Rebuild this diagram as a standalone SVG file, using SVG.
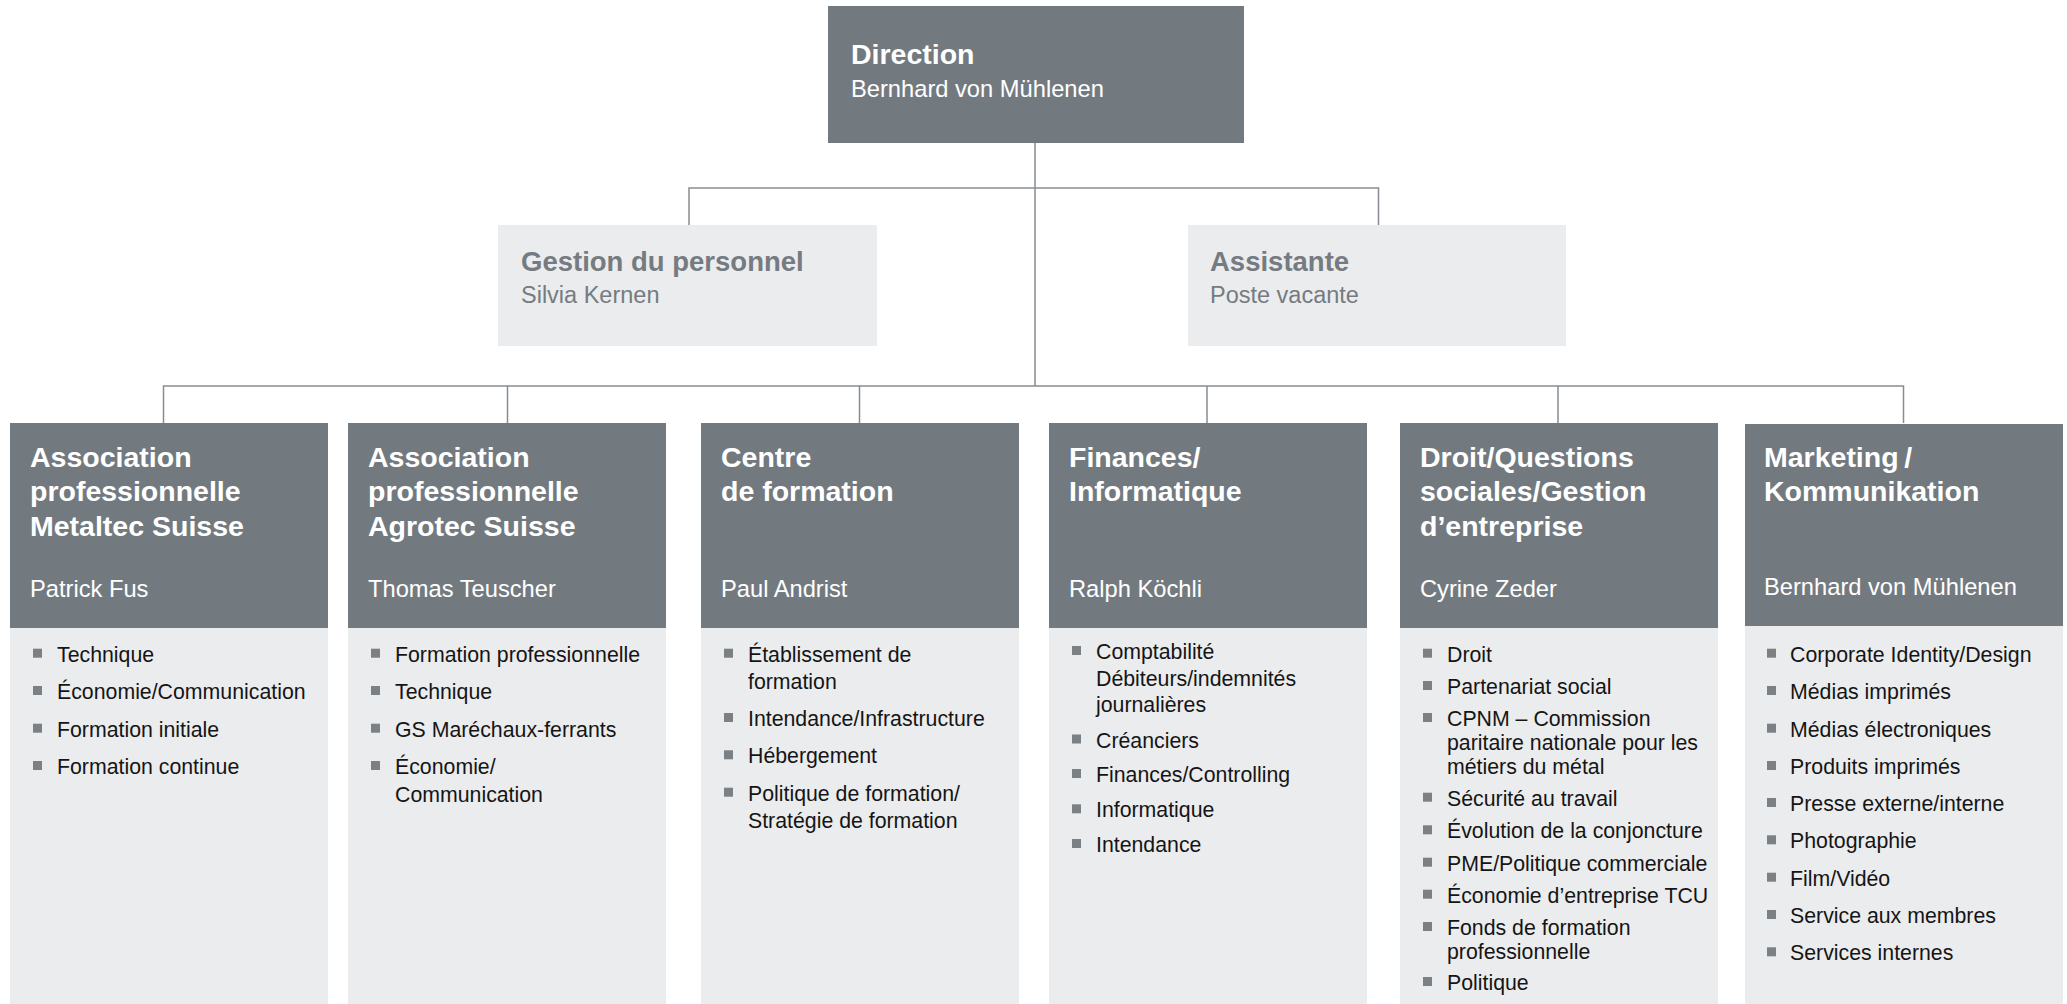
<svg xmlns="http://www.w3.org/2000/svg" width="2067" height="1004" viewBox="0 0 2067 1004">
<style>
text{font-family:"Liberation Sans",Arial,sans-serif}
.dark{fill:#737a7f}
.light{fill:#ebeced}
.h{font-size:28.5px;font-weight:bold;fill:#ffffff}
.n{font-size:23.7px;fill:#ffffff}
.hg{font-size:27.5px;font-weight:bold;fill:#757b80}
.ng{font-size:23.5px;fill:#757b80}
.b{font-size:21.3px;fill:#151515}
.bul{fill:#7b8085}
.con{fill:none;stroke:#878d92;stroke-width:1.5}
</style>
<defs>
<rect id="sq" width="9" height="9" class="bul"/>
</defs>
<rect width="2067" height="1004" fill="#ffffff"/>
<g id="connectors" class="con">
<path d="M1035 143V386"/>
<path d="M689 225V188H1378.5V225"/>
<path d="M163.5 423V386H1903.5V423"/>
<path d="M507.5 386V423M859.5 386V423M1207 386V423M1558 386V423"/>
</g>
<g id="direction">
<rect x="828" y="6" width="416" height="137" class="dark"/>
<text x="851" y="64" class="h">Direction</text>
<text x="851" y="97" class="n">Bernhard von Mühlenen</text>
</g>
<g id="gestion">
<rect x="498" y="225" width="379" height="121" class="light"/>
<text x="521" y="271" class="hg">Gestion du personnel</text>
<text x="521" y="303" class="ng">Silvia Kernen</text>
</g>
<g id="assistante">
<rect x="1188" y="225" width="378" height="121" class="light"/>
<text x="1210" y="271" class="hg">Assistante</text>
<text x="1210" y="303" class="ng">Poste vacante</text>
</g>
<g id="metaltec">
<rect x="10" y="628" width="318" height="376" class="light"/>
<rect x="10" y="423" width="318" height="205" class="dark"/>
<text x="30" y="467" class="h">Association<tspan x="30" y="501">professionnelle</tspan><tspan x="30" y="536">Metaltec Suisse</tspan></text>
<text x="30" y="597" class="n">Patrick Fus</text>
<use href="#sq" x="33" y="648.7"/><text x="57" y="661.7" class="b">Technique</text>
<use href="#sq" x="33" y="686"/><text x="57" y="699" class="b">Économie/Communication</text>
<use href="#sq" x="33" y="723.7"/><text x="57" y="736.7" class="b">Formation initiale</text>
<use href="#sq" x="33" y="761"/><text x="57" y="774" class="b">Formation continue</text>
</g>
<g id="agrotec">
<rect x="348" y="628" width="318" height="376" class="light"/>
<rect x="348" y="423" width="318" height="205" class="dark"/>
<text x="368" y="467" class="h">Association<tspan x="368" y="501">professionnelle</tspan><tspan x="368" y="536">Agrotec Suisse</tspan></text>
<text x="368" y="597" class="n">Thomas Teuscher</text>
<use href="#sq" x="371" y="648.7"/><text x="395" y="661.7" class="b">Formation professionnelle</text>
<use href="#sq" x="371" y="686"/><text x="395" y="699" class="b">Technique</text>
<use href="#sq" x="371" y="723.7"/><text x="395" y="736.7" class="b">GS Maréchaux-ferrants</text>
<use href="#sq" x="371" y="761"/><text x="395" y="774" class="b">Économie/<tspan x="395" y="801.7">Communication</tspan></text>
</g>
<g id="centre">
<rect x="701" y="628" width="318" height="376" class="light"/>
<rect x="701" y="423" width="318" height="205" class="dark"/>
<text x="721" y="467" class="h">Centre<tspan x="721" y="501">de formation</tspan></text>
<text x="721" y="597" class="n">Paul Andrist</text>
<use href="#sq" x="724" y="648.7"/><text x="748" y="661.7" class="b">Établissement de<tspan x="748" y="688.7">formation</tspan></text>
<use href="#sq" x="724" y="713"/><text x="748" y="726" class="b">Intendance/Infrastructure</text>
<use href="#sq" x="724" y="750.3"/><text x="748" y="763.3" class="b">Hébergement</text>
<use href="#sq" x="724" y="787.7"/><text x="748" y="800.7" class="b">Politique de formation/<tspan x="748" y="827.7">Stratégie de formation</tspan></text>
</g>
<g id="finances">
<rect x="1049" y="628" width="318" height="376" class="light"/>
<rect x="1049" y="423" width="318" height="205" class="dark"/>
<text x="1069" y="467" class="h">Finances/<tspan x="1069" y="501">Informatique</tspan></text>
<text x="1069" y="597" class="n">Ralph Köchli</text>
<use href="#sq" x="1072" y="646"/><text x="1096" y="659" class="b">Comptabilité<tspan x="1096" y="685.5">Débiteurs/indemnités</tspan><tspan x="1096" y="711.8">journalières</tspan></text>
<use href="#sq" x="1072" y="734.5"/><text x="1096" y="747.5" class="b">Créanciers</text>
<use href="#sq" x="1072" y="769"/><text x="1096" y="782" class="b">Finances/Controlling</text>
<use href="#sq" x="1072" y="804.3"/><text x="1096" y="817.3" class="b">Informatique</text>
<use href="#sq" x="1072" y="839"/><text x="1096" y="852" class="b">Intendance</text>
</g>
<g id="droit">
<rect x="1400" y="628" width="318" height="376" class="light"/>
<rect x="1400" y="423" width="318" height="205" class="dark"/>
<text x="1420" y="467" class="h">Droit/Questions<tspan x="1420" y="501">sociales/Gestion</tspan><tspan x="1420" y="536">d’entreprise</tspan></text>
<text x="1420" y="597" class="n">Cyrine Zeder</text>
<use href="#sq" x="1423" y="648.7"/><text x="1447" y="661.7" class="b">Droit</text>
<use href="#sq" x="1423" y="681"/><text x="1447" y="694" class="b">Partenariat social</text>
<use href="#sq" x="1423" y="713"/><text x="1447" y="726" class="b">CPNM – Commission<tspan x="1447" y="750">paritaire nationale pour les</tspan><tspan x="1447" y="774">métiers du métal</tspan></text>
<use href="#sq" x="1423" y="792.7"/><text x="1447" y="805.7" class="b">Sécurité au travail</text>
<use href="#sq" x="1423" y="825.3"/><text x="1447" y="838.3" class="b">Évolution de la conjoncture</text>
<use href="#sq" x="1423" y="857.7"/><text x="1447" y="870.7" class="b">PME/Politique commerciale</text>
<use href="#sq" x="1423" y="889.7"/><text x="1447" y="902.7" class="b">Économie d’entreprise TCU</text>
<use href="#sq" x="1423" y="922"/><text x="1447" y="935" class="b">Fonds de formation<tspan x="1447" y="959">professionnelle</tspan></text>
<use href="#sq" x="1423" y="977"/><text x="1447" y="990" class="b">Politique</text>
</g>
<g id="marketing">
<rect x="1745" y="626" width="318" height="378" class="light"/>
<rect x="1745" y="424" width="318" height="202" class="dark"/>
<text x="1764" y="467" class="h">Marketing&#8201;/<tspan x="1764" y="501">Kommunikation</tspan></text>
<text x="1764" y="595" class="n">Bernhard von Mühlenen</text>
<use href="#sq" x="1767" y="648.7"/><text x="1790" y="661.7" class="b">Corporate Identity/Design</text>
<use href="#sq" x="1767" y="686"/><text x="1790" y="699" class="b">Médias imprimés</text>
<use href="#sq" x="1767" y="723.7"/><text x="1790" y="736.7" class="b">Médias électroniques</text>
<use href="#sq" x="1767" y="761"/><text x="1790" y="774" class="b">Produits imprimés</text>
<use href="#sq" x="1767" y="798"/><text x="1790" y="811" class="b">Presse externe/interne</text>
<use href="#sq" x="1767" y="835.3"/><text x="1790" y="848.3" class="b">Photographie</text>
<use href="#sq" x="1767" y="872.7"/><text x="1790" y="885.7" class="b">Film/Vidéo</text>
<use href="#sq" x="1767" y="910"/><text x="1790" y="923" class="b">Service aux membres</text>
<use href="#sq" x="1767" y="947.3"/><text x="1790" y="960.3" class="b">Services internes</text>
</g>
</svg>
